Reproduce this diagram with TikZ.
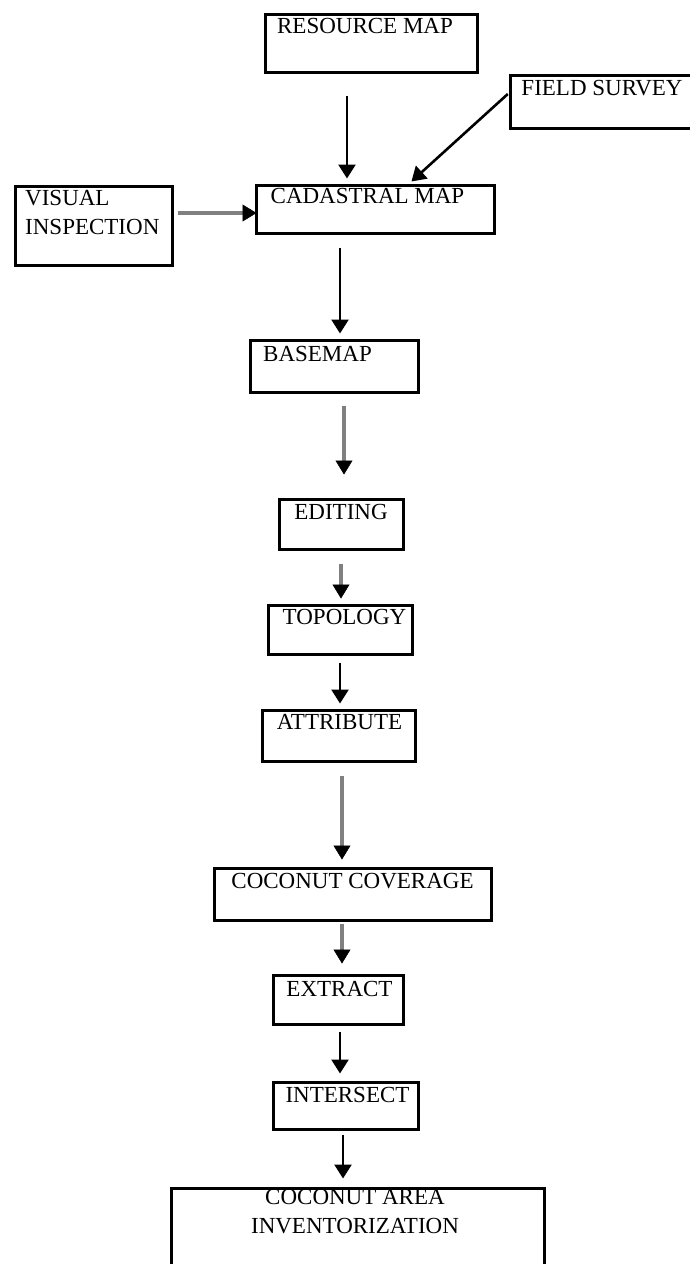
\documentclass[tikz,border=0pt]{standalone}
\usepackage{fontspec}
\setmainfont{Liberation Serif}
\usetikzlibrary{arrows.meta}
\begin{document}
\begin{tikzpicture}[x=1pt,y=-1pt,
  box/.style={draw=black,line width=3pt,minimum width=#1,outer sep=0pt,inner sep=0pt},
  lbl/.style={inner sep=0pt,font=\fontsize{23}{29.5}\selectfont},
  arr/.style={line width=2.6pt,draw=black,-{Triangle[width=17pt,length=14pt]}},
  garr/.style={line width=4pt,draw=black!50,-{Triangle[width=17pt,length=14pt,color=black,fill=black,line width=0.5pt]}}]
\useasboundingbox (0,0) rectangle (690,1264);
\clip (0,0) rectangle (690,1264);
% boxes
\node[box=212pt,minimum height=58pt] (res) at (371.5,43.5) {};
\node[box=190pt,minimum height=53pt] (fs) at (605,102) {};
\node[box=157pt,minimum height=79pt] (vis) at (94,226) {};
\node[box=238pt,minimum height=48pt] (cad) at (375.5,209.5) {};
\node[box=168pt,minimum height=52pt] (base) at (334.5,366.5) {};
\node[box=124pt,minimum height=50pt] (edit) at (341.5,524.5) {};
\node[box=144pt,minimum height=49pt] (topo) at (340.5,630) {};
\node[box=153pt,minimum height=51pt] (attr) at (339,736) {};
\node[box=277pt,minimum height=52pt] (cov) at (353,894.5) {};
\node[box=130pt,minimum height=49pt] (ext) at (338.5,1000) {};
\node[box=145pt,minimum height=47pt] (int) at (346,1106) {};
\node[box=373pt,minimum height=100pt] (inv) at (358,1238.5) {};
% labels
\node[lbl] (tres) at (365,26) {RESOURCE MAP};
\node[lbl] (tfs) at (602,88) {FIELD SURVEY};
\node[lbl,align=left,anchor=north west] (tvis) at (25,190) {VISUAL\\INSPECTION};
\node[lbl] (tcad) at (367.5,196) {CADASTRAL MAP};
\node[lbl] (tbase) at (317.5,354) {BASEMAP};
\node[lbl] (tedit) at (341,511.5) {EDITING};
\node[lbl] (ttopo) at (344.5,617) {TOPOLOGY};
\node[lbl] (tattr) at (339.5,722.5) {ATTRIBUTE};
\node[lbl] (tcov) at (352.5,881) {COCONUT COVERAGE};
\node[lbl] (text) at (339.5,989) {EXTRACT};
\node[lbl] (tint) at (347.5,1094.5) {INTERSECT};
\node[lbl,align=center,anchor=north] (tinv) at (355,1189) {COCONUT AREA\\INVENTORIZATION};
% connectors
\draw[arr,shorten <=23pt,shorten >=7pt] ([xshift=-24.5pt]res.south) -- ([xshift=-24.5pt]res.south |- cad.north);
\draw[arr,shorten <=3pt,shorten >=6pt] ([yshift=10pt]fs.west) -- ([xshift=31.5pt]cad.north);
\draw[garr,shorten <=5pt] ([yshift=13pt]vis.east) -- ([yshift=13pt]vis.east -| cad.west);
\draw[arr,shorten <=14pt,shorten >=7pt] ([xshift=-35.5pt]cad.south) -- ([xshift=-35.5pt]cad.south |- base.north);
\draw[garr,shorten <=13pt,shorten >=25pt] ([xshift=9.5pt]base.south) -- ([xshift=9.5pt]base.south |- edit.north);
\draw[garr,shorten <=14pt,shorten >=7pt] ([xshift=-0.5pt]edit.south) -- ([xshift=-0.5pt]edit.south |- topo.north);
\draw[arr,shorten <=8pt,shorten >=7pt] ([xshift=-0.5pt]topo.south) -- ([xshift=-0.5pt]topo.south |- attr.north);
\draw[garr,shorten <=14pt,shorten >=9pt] ([xshift=3pt]attr.south) -- ([xshift=3pt]attr.south |- cov.north);
\draw[garr,shorten <=3pt,shorten >=12pt] ([xshift=-11pt]cov.south) -- ([xshift=-11pt]cov.south |- ext.north);
\draw[arr,shorten <=7pt,shorten >=9pt] ([xshift=1.5pt]ext.south) -- ([xshift=1.5pt]ext.south |- int.north);
\draw[arr,shorten <=5pt,shorten >=10pt] ([xshift=-3pt]int.south) -- ([xshift=-3pt]int.south |- inv.north);
\end{tikzpicture}
\end{document}
